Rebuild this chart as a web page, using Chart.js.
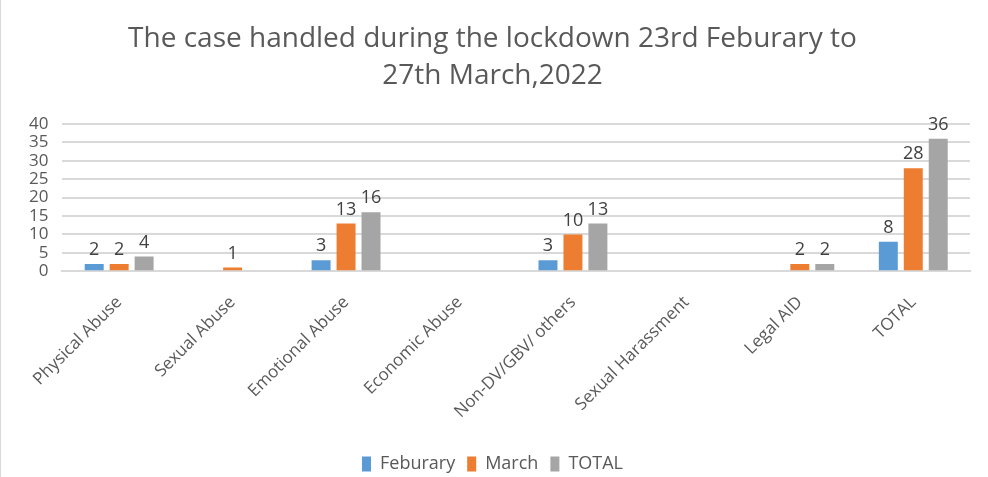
<!DOCTYPE html>
<html>
<head>
<meta charset="utf-8">
<script src="https://cdn.jsdelivr.net/npm/chart.js@4.4.1/dist/chart.umd.min.js"></script>
<style>
  html, body { margin: 0; padding: 0; background: #fff; }
  #wrap { position: relative; width: 988px; height: 477px; box-sizing: border-box; border-left: 1px solid #d9d9d9; }
</style>
</head>
<body>
<div id="wrap"><canvas id="chart"></canvas></div>
<script>
// chart values
const categories = ['Physical Abuse', 'Sexual Abuse', 'Emotional Abuse', 'Economic Abuse',
    'Non-DV/GBV/ others', 'Sexual Harassment', 'Legal AID', 'TOTAL'];
const febValues = [2, null, 3, null, 3, null, null, 8];
const marchValues = [2, 1, 13, null, 10, null, 2, 28];
const totalValues = [4, null, 16, null, 13, null, 2, 36];
const yTicks = [0, 5, 10, 15, 20, 25, 30, 35, 40];

const font = '"Open Sans", "Noto Sans", sans-serif';

// draws the value above each bar
const valueLabels = {
    id: 'valueLabels',
    afterDatasetsDraw(chart) {
        const ctx = chart.ctx;
        ctx.save();
        ctx.font = '18px ' + font;
        ctx.fillStyle = '#404040';
        ctx.textAlign = 'center';
        ctx.textBaseline = 'bottom';
        chart.data.datasets.forEach(function (ds, i) {
            chart.getDatasetMeta(i).data.forEach(function (bar, j) {
                const v = ds.data[j];
                if (v === null || v === undefined) return;
                ctx.fillText(String(v), bar.x, bar.y - 5);
            });
        });
        ctx.restore();
    }
};

new Chart(document.getElementById('chart'), {
    type: 'bar',
    data: {
        labels: categories,
        datasets: [{
            label: 'Feburary',
            data: febValues,
            backgroundColor: '#5b9bd5'
        }, {
            label: 'March',
            data: marchValues,
            backgroundColor: '#ed7d31'
        }, {
            label: 'TOTAL',
            data: totalValues,
            backgroundColor: '#a5a5a5'
        }]
    },
    options: {
        responsive: true,
        maintainAspectRatio: false,
        animation: false,
        categoryPercentage: 0.66,
        barPercentage: 0.76,
        layout: {
            padding: { left: 14, right: 18, top: 10, bottom: -6 }
        },
        plugins: {
            title: {
                display: true,
                text: ['The case handled during the lockdown 23rd Feburary to', '27th March,2022'],
                color: '#595959',
                font: { family: font, size: 28, weight: 'normal', lineHeight: 1.32 },
                padding: { top: 11, bottom: 29 }
            },
            legend: {
                position: 'bottom',
                labels: {
                    color: '#595959',
                    font: { family: font, size: 18 },
                    boxWidth: 9,
                    boxHeight: 15,
                    padding: 12
                }
            },
            tooltip: { enabled: false }
        },
        scales: {
            x: {
                grid: { display: false, drawTicks: false },
                border: { color: '#d9d9d9', width: 2 },
                ticks: {
                    color: '#595959',
                    font: { family: font, size: 17 },
                    minRotation: 45,
                    maxRotation: 45,
                    autoSkip: false,
                    padding: 21
                }
            },
            y: {
                min: 0,
                max: 40,
                afterBuildTicks(axis) {
                    axis.ticks = yTicks.map(v => ({ value: v }));
                },
                grid: { color: '#d9d9d9', lineWidth: 2, drawTicks: false },
                border: { display: false },
                ticks: {
                    color: '#595959',
                    font: { family: font, size: 17 },
                    autoSkip: false,
                    padding: 14
                }
            }
        }
    },
    plugins: [valueLabels]
});
</script>
</body>
</html>
